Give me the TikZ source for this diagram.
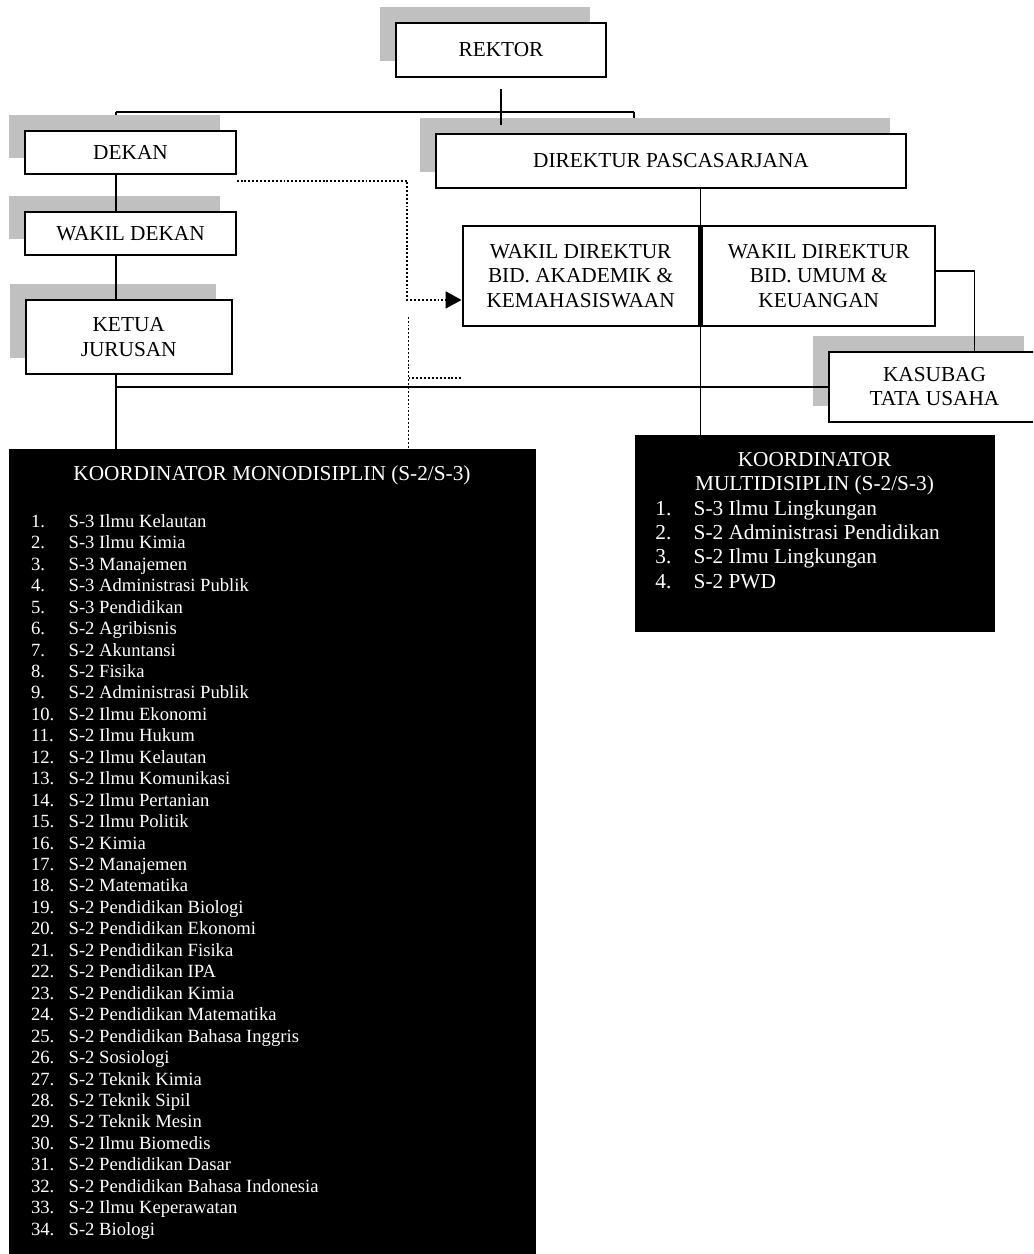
\documentclass[tikz,border=0pt]{standalone}
\usepackage{fontspec}
\setmainfont{Liberation Serif}
\usetikzlibrary{shadows,arrows.meta,backgrounds}
\definecolor{shadowgray}{HTML}{C0C0C0}

\begin{document}
\begin{tikzpicture}[x=0.5634pt,y=-0.5634pt,
  unit/.style={draw,line width=1.1pt,fill=white,align=center,inner sep=0pt,font=\fontsize{12}{13.8}\selectfont},
  grayshadow/.style={drop shadow={shadow xshift=-9pt,shadow yshift=9pt,fill=shadowgray,opacity=1}},
  conn/.style={line width=0.95pt},
  dotline/.style={line width=1.1pt,dash pattern=on 1.1pt off 1.1pt},
  blackbox/.style={draw,fill=black,inner sep=0pt},
  hd/.style={text=white,inner sep=0pt,anchor=base,font=\fontsize{12}{13.8}\selectfont},
  item/.style={text=white,inner sep=0pt,anchor=base west,font=\fontsize{10.5}{12}\selectfont},
  bigitem/.style={text=white,inner sep=0pt,anchor=base west,font=\fontsize{12}{13.8}\selectfont}]
  \useasboundingbox (0,0) rectangle (1033,1254);
  \clip (0,0) rectangle (1033,1254);

  % boxes
  \node[unit,grayshadow,minimum width=118.3pt,minimum height=30.6pt] (rektor) at (501,49.9) {REKTOR};
  \node[unit,grayshadow,minimum width=118.5pt,minimum height=24.4pt] (dekan) at (130.5,152.7) {DEKAN};
  \node[unit,grayshadow,minimum width=118.9pt,minimum height=24.4pt] (wadek) at (130.5,233.7) {WAKIL DEKAN};
  \node[unit,grayshadow,minimum width=116.1pt,minimum height=41.7pt] (ketua) at (128.7,337) {KETUA\\JURUSAN};
  \node[unit,grayshadow,minimum width=264.8pt,minimum height=30.4pt] (dir) at (671,161) {DIREKTUR PASCASARJANA};
  \node[unit,minimum width=133pt,minimum height=56.3pt] (wakA) at (580.6,276) {WAKIL DIREKTUR\\BID. AKADEMIK \&\\KEMAHASISWAAN};
  \node[unit,minimum width=131.4pt,minimum height=56.3pt] (wakU) at (818.7,276) {WAKIL DIREKTUR\\BID. UMUM \&\\KEUANGAN};
  \node[unit,grayshadow,minimum width=118.9pt,minimum height=39.4pt] (kasubag) at (934.5,386.7) {KASUBAG\\TATA USAHA};
  \node[blackbox,minimum width=296.3pt,minimum height=455.2pt] (mono) at (272,853.3) {};
  \node[blackbox,minimum width=202.3pt,minimum height=110.4pt] (multi) at (814.5,533) {};

  % lines
  \coordinate (barL) at (116,112);
  \coordinate (barR) at (634,112);
  \begin{scope}[on background layer]
    \draw[conn] (barL) -- (barL |- dekan.north);
    \draw[conn] (barR) -- (barR |- dir.north);
  \end{scope}
  \draw[conn] (barL) -- (barR);
  \draw[conn,shorten <=6pt] (rektor.south) -- ++(0,47);
  \draw[conn] (dekan.south -| barL) -- (wadek.north -| barL);
  \draw[conn] (wadek.south -| barL) -- (ketua.north -| barL);
  \draw[conn] (ketua.south -| barL) -- (mono.north -| barL);
  \draw[conn] (kasubag.west) -- (kasubag.west -| barL);
  \coordinate (gap) at (700.4,0);
  \draw[conn] (dir.south -| gap) -- (multi.north -| gap);
  \draw[conn] ([yshift=3pt]wakU.east) -| ([xshift=22.5pt]kasubag.north);

  % dotted lines
  \coordinate (dotx) at (407,0);
  \coordinate (arrowin) at ([yshift=-13.5pt]wakA.west);
  \draw[dotline,-{Triangle[length=9pt,width=9.5pt]}] ([yshift=-3pt]dekan.south east) -| (dotx |- arrowin) -- (arrowin);
  \coordinate (dotx2) at (408.5,316.7);
  \draw[dotline] (dotx2) -- (dotx2 |- mono.north);
  \coordinate (dotstub) at (408.5,377.7);
  \draw[dotline] (dotstub) -- (dotstub -| wakA.west);

  % monodisiplin list
  \node[hd] (monot) at (272,480) {KOORDINATOR MONODISIPLIN (S-2/S-3)};
  \foreach \s [count=\i] in {S-3 Ilmu Kelautan,S-3 Ilmu Kimia,S-3 Manajemen,S-3 Administrasi Publik,
    S-3 Pendidikan,S-2 Agribisnis,S-2 Akuntansi,S-2 Fisika,S-2 Administrasi Publik,S-2 Ilmu Ekonomi,
    S-2 Ilmu Hukum,S-2 Ilmu Kelautan,S-2 Ilmu Komunikasi,S-2 Ilmu Pertanian,S-2 Ilmu Politik,
    S-2 Kimia,S-2 Manajemen,S-2 Matematika,S-2 Pendidikan Biologi,S-2 Pendidikan Ekonomi,
    S-2 Pendidikan Fisika,S-2 Pendidikan IPA,S-2 Pendidikan Kimia,S-2 Pendidikan Matematika,
    S-2 Pendidikan Bahasa Inggris,S-2 Sosiologi,S-2 Teknik Kimia,S-2 Teknik Sipil,S-2 Teknik Mesin,
    S-2 Ilmu Biomedis,S-2 Pendidikan Dasar,S-2 Pendidikan Bahasa Indonesia,S-2 Ilmu Keperawatan,
    S-2 Biologi}{
    \node[item] (mn\i) at (30.7,{527.3+21.45*(\i-1)}) {\i.};
    \node[item] (ms\i) at (68.3,{527.3+21.45*(\i-1)}) {\s};
  }

  % multidisiplin list
  \node[hd] (multit) at (814.5,466) {KOORDINATOR};
  \node[hd] (multis) at (814.5,490.7) {MULTIDISIPLIN (S-2/S-3)};
  \foreach \s [count=\i] in {S-3 Ilmu Lingkungan,S-2 Administrasi Pendidikan,S-2 Ilmu Lingkungan,S-2 PWD}{
    \node[bigitem] (un\i) at (655,{515+24.4*(\i-1)}) {\i.};
    \node[bigitem] (us\i) at (693.3,{515+24.4*(\i-1)}) {\s};
  }
\end{tikzpicture}
\end{document}
